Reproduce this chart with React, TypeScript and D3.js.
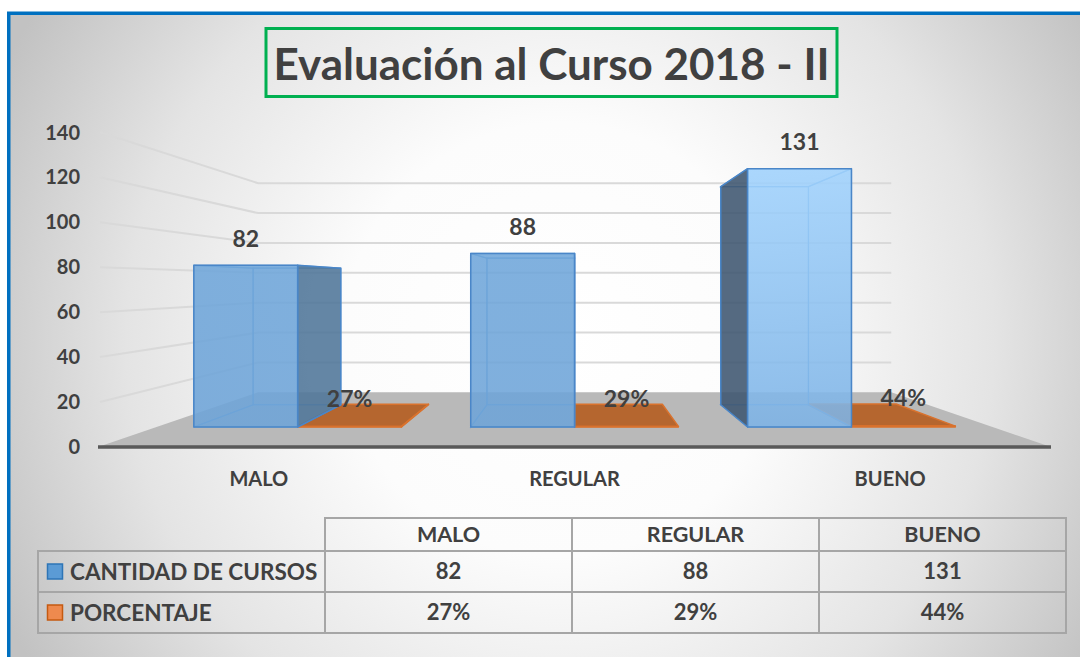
import React from "react";
import * as d3 from "d3";

const title = "Evaluación al Curso 2018 - II";
const categories = ["MALO", "REGULAR", "BUENO"];
const seriesNames = ["CANTIDAD DE CURSOS", "PORCENTAJE"];
const cantidad = [82, 88, 131];
const porcentaje = [0.27, 0.29, 0.44];
const yTicks = [0, 20, 40, 60, 80, 100, 120, 140];

const W = 1080;
const H = 657;
const FONT = "Lato, 'Open Sans', sans-serif";
const TXT = "#404040";

// perspective
const VX = 575;
const VY = 284;
const Z_BACK = 0.505;
const Z0 = 0.14;
const Z1 = 0.35;
const proj = (x: number, y: number, z: number): [number, number] => {
  const s = 1 / (1 + z);
  return [VX + s * (x - VX), VY + s * (y - VY)];
};
const pts = (arr: [number, number][]) => arr.map((p) => p.join(",")).join(" ");

const x = d3.scaleBand<string>().domain(categories).range([101, 1048]).padding(0);
const y = d3.scaleLinear().domain([0, 140]).range([447, 132.3]);
const floorX0 = 98;
const floorX1 = 1051;

const fmtPct = d3.format(".0%");

type Face = { key: string; p: [number, number][]; visible: boolean; kind: string };

function cuboid(x0: number, x1: number, yb: number, yt: number, z0: number, z1: number): Face[] {
  const c = (xx: number, yy: number, zz: number) => proj(xx, yy, zz);
  return [
    { key: "back", kind: "back", visible: false, p: [c(x0, yb, z1), c(x1, yb, z1), c(x1, yt, z1), c(x0, yt, z1)] },
    { key: "bottom", kind: "bottom", visible: yb < VY, p: [c(x0, yb, z0), c(x1, yb, z0), c(x1, yb, z1), c(x0, yb, z1)] },
    { key: "top", kind: "top", visible: yt > VY, p: [c(x0, yt, z0), c(x1, yt, z0), c(x1, yt, z1), c(x0, yt, z1)] },
    { key: "left", kind: "side", visible: x0 > VX, p: [c(x0, yb, z0), c(x0, yb, z1), c(x0, yt, z1), c(x0, yt, z0)] },
    { key: "right", kind: "side", visible: x1 < VX, p: [c(x1, yb, z0), c(x1, yb, z1), c(x1, yt, z1), c(x1, yt, z0)] },
    { key: "front", kind: "front", visible: true, p: [c(x0, yb, z0), c(x1, yb, z0), c(x1, yt, z0), c(x0, yt, z0)] },
  ];
}

export default function App() {
  const bw = x.bandwidth() * 0.375;
  const centers = categories.map((c) => (x(c) as number) + x.bandwidth() / 2);

  const blueBars = categories.map((c, i) => {
    const cx = centers[i];
    const x0 = cx - bw;
    const x1 = cx;
    const faces = cuboid(x0, x1, y(0), y(cantidad[i]), Z0, Z1);
    const light = Math.max(0, Math.min(1, (x1 - VX) / 250));
    const topCol = d3.interpolateRgb("#6fa6da", "#a0d2fd")(light);
    const botCol = d3.interpolateRgb("#6ea4d8", "#7db3e6")(light);
    const sideCol = x1 < VX ? "#4f7598" : "#3d5570";
    const front = faces.find((f) => f.key === "front")!;
    const labelX = (front.p[0][0] + front.p[1][0]) / 2;
    const labelY = front.p[2][1] - 27;
    return { c, i, faces, topCol, botCol, sideCol, labelX, labelY };
  });

  const orangeBars = categories.map((c, i) => {
    const cx = centers[i];
    const x0 = cx;
    const x1 = cx + bw;
    const faces = cuboid(x0, x1, y(0), y(porcentaje[i]), Z0, Z1);
    const front = faces.find((f) => f.key === "front")!;
    const labelX = (front.p[0][0] + front.p[1][0]) / 2;
    const labelY = front.p[2][1] - 28;
    return { c, i, faces, labelX, labelY };
  });

  const floor: [number, number][] = [
    proj(floorX0, y(0), 0),
    proj(floorX1, y(0), 0),
    proj(floorX1, y(0), Z_BACK),
    proj(floorX0, y(0), Z_BACK),
  ];

  // table
  const tX0 = 38;
  const tCol = d3.scaleBand<string>().domain(categories).range([325, 1066]);
  const rowTops = [518, 551, 592, 633];

  return (
    <svg
      width={W}
      height={H}
      viewBox={`0 0 ${W} ${H}`}
      style={{ position: "fixed", left: 0, top: 0, display: "block" }}
    >
      <defs>
        <radialGradient id="bg" gradientUnits="userSpaceOnUse" cx={560} cy={340} r={620}>
          <stop offset="0" stopColor="#ffffff" />
          <stop offset="0.35" stopColor="#fcfcfc" />
          <stop offset="0.7" stopColor="#e4e4e4" />
          <stop offset="1" stopColor="#c2c2c2" />
        </radialGradient>
        {blueBars.map((b) => (
          <linearGradient key={b.c} id={`bf${b.i}`} x1="0" y1="0" x2="0" y2="1">
            <stop offset="0" stopColor={b.topCol} />
            <stop offset="1" stopColor={b.botCol} />
          </linearGradient>
        ))}
      </defs>
      <rect x={0} y={0} width={W} height={H} fill="#ffffff" />
      <rect x={9} y={13} width={1300} height={1000} fill="url(#bg)" />
      <rect x={8.75} y={13.25} width={1300} height={1000} fill="none" stroke="#0070c0" strokeWidth={3.5} />

      {/* title */}
      <rect x={266} y={28.5} width={571} height={68} fill="none" stroke="#00b050" strokeWidth={3} />
      <text x={551.5} y={80} textAnchor="middle" fontFamily={FONT} fontWeight={700} fontSize={44} fill={TXT}>
        {title}
      </text>

      {/* gridlines: side wall + back wall */}
      {yTicks.filter((t) => t > 0).map((t) => {
        const a = proj(floorX0, y(t), 0);
        const b = proj(floorX0, y(t), Z_BACK);
        const c = proj(floorX1, y(t), Z_BACK);
        return (
          <polyline
            key={t}
            points={pts([[a[0] + 2, a[1]], b, c])}
            fill="none"
            stroke="#d9d9d9"
            strokeWidth={2}
          />
        );
      })}

      {/* floor */}
      <polygon points={pts(floor)} fill="#b9b9b9" />
      <line x1={floorX0} y1={y(0)} x2={floorX1} y2={y(0)} stroke="#595959" strokeWidth={3.5} />

      {/* y axis labels */}
      {yTicks.map((t) => (
        <text
          key={t}
          x={80}
          y={y(t)}
          dy="0.36em"
          textAnchor="end"
          fontFamily={FONT}
          fontWeight={700}
          fontSize={20}
          fill={TXT}
        >
          {t}
        </text>
      ))}

      {/* orange bars */}
      {orangeBars.map((b) => (
        <g key={b.c}>
          {b.faces
            .filter((f) => f.visible)
            .map((f) => (
              <polygon
                key={f.key}
                points={pts(f.p)}
                fill="#b5662f"
                stroke="#d9722d"
                strokeWidth={1.5}
                strokeLinejoin="round"
              />
            ))}
        </g>
      ))}

      {/* blue bars */}
      {blueBars.map((b) => (
        <g key={b.c}>
          {b.faces
            .filter((f) => !f.visible)
            .map((f) => (
              <polygon key={f.key} points={pts(f.p)} fill="none" stroke="#5d9ad6" strokeWidth={1.2} strokeOpacity={0.8} />
            ))}
          {b.faces
            .filter((f) => f.visible)
            .map((f) => (
              <polygon
                key={f.key}
                points={pts(f.p)}
                fill={f.kind === "front" ? `url(#bf${b.i})` : b.sideCol}
                fillOpacity={0.88}
                stroke="#4a86c8"
                strokeWidth={1.5}
                strokeLinejoin="round"
              />
            ))}
        </g>
      ))}

      {/* data labels */}
      {blueBars.map((b) => (
        <text
          key={b.c}
          x={b.labelX}
          y={b.labelY}
          dy="0.36em"
          textAnchor="middle"
          fontFamily={FONT}
          fontWeight={700}
          fontSize={23}
          fill={TXT}
        >
          {cantidad[b.i]}
        </text>
      ))}
      {orangeBars.map((b) => (
        <text
          key={b.c}
          x={b.labelX}
          y={b.labelY}
          dy="0.36em"
          textAnchor="middle"
          fontFamily={FONT}
          fontWeight={700}
          fontSize={23}
          fill={TXT}
        >
          {fmtPct(porcentaje[b.i])}
        </text>
      ))}

      {/* category labels */}
      {categories.map((c, i) => (
        <text
          key={c}
          x={centers[i]}
          y={479}
          dy="0.36em"
          textAnchor="middle"
          fontFamily={FONT}
          fontWeight={700}
          fontSize={20}
          fill={TXT}
        >
          {c}
        </text>
      ))}

      {/* data table */}
      <g stroke="#a6a6a6" strokeWidth={2} fill="none">
        <rect x={325} y={rowTops[0]} width={1066 - 325} height={rowTops[1] - rowTops[0]} />
        <rect x={tX0} y={rowTops[1]} width={1066 - tX0} height={rowTops[2] - rowTops[1]} />
        <rect x={tX0} y={rowTops[2]} width={1066 - tX0} height={rowTops[3] - rowTops[2]} />
        {categories.map((c) => (
          <line key={c} x1={tCol(c)} y1={rowTops[0]} x2={tCol(c)} y2={rowTops[3]} />
        ))}
      </g>
      {categories.map((c) => (
        <text
          key={"h" + c}
          x={(tCol(c) as number) + tCol.bandwidth() / 2}
          y={(rowTops[0] + rowTops[1]) / 2}
          dy="0.36em"
          textAnchor="middle"
          fontFamily={FONT}
          fontWeight={700}
          fontSize={21.5}
          fill={TXT}
        >
          {c}
        </text>
      ))}
      {categories.map((c, i) => (
        <text
          key={"v1" + c}
          x={(tCol(c) as number) + tCol.bandwidth() / 2}
          y={(rowTops[1] + rowTops[2]) / 2}
          dy="0.36em"
          textAnchor="middle"
          fontFamily={FONT}
          fontWeight={700}
          fontSize={22}
          fill={TXT}
        >
          {cantidad[i]}
        </text>
      ))}
      {categories.map((c, i) => (
        <text
          key={"v2" + c}
          x={(tCol(c) as number) + tCol.bandwidth() / 2}
          y={(rowTops[2] + rowTops[3]) / 2}
          dy="0.36em"
          textAnchor="middle"
          fontFamily={FONT}
          fontWeight={700}
          fontSize={22}
          fill={TXT}
        >
          {fmtPct(porcentaje[i])}
        </text>
      ))}
      {seriesNames.map((s, i) => {
        const cy = (rowTops[i + 1] + rowTops[i + 2]) / 2;
        return (
          <g key={s}>
            <rect
              x={47.5}
              y={cy - 7.5}
              width={15}
              height={15}
              fill={i === 0 ? "#5b9bd5" : "#ee8a4e"}
              stroke={i === 0 ? "#2e75b6" : "#c55a11"}
              strokeWidth={1.5}
            />
            <text x={70} y={cy} dy="0.36em" fontFamily={FONT} fontWeight={700} fontSize={22.5} fill={TXT}>
              {s}
            </text>
          </g>
        );
      })}
    </svg>
  );
}
